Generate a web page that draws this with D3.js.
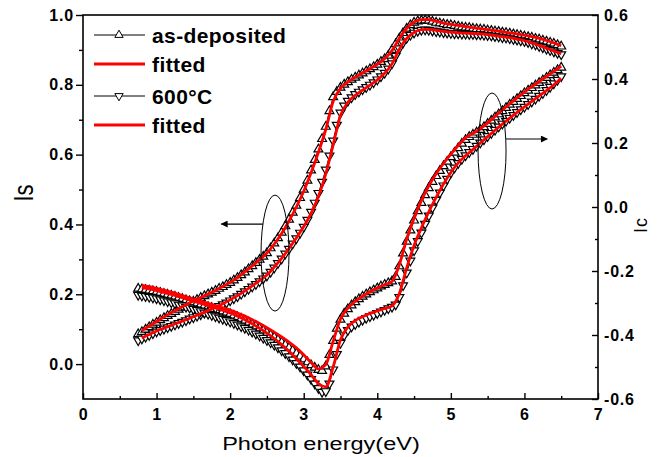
<!DOCTYPE html>
<html>
<head>
<meta charset="utf-8">
<script src="https://cdn.jsdelivr.net/npm/d3@7"></script>
<style>
body{margin:0;background:#fff;}
svg text{font-family:"Liberation Sans",Arial,sans-serif;fill:#000;}
</style>
</head>
<body>
<div id="board"></div>
<script>

// photon energy (eV) of the measured points
var energy = [0.75,0.8,0.85,0.9,0.95,
  1,1.05,1.1,1.15,1.2,1.25,1.3,1.35,1.4,1.45,1.5,1.55,1.6,1.65,1.7,1.75,1.8,1.85,1.9,1.95,
  2,2.05,2.1,2.15,2.2,2.25,2.3,2.35,2.4,2.45,2.5,2.55,2.6,2.65,2.7,2.75,2.8,2.85,2.9,2.95,
  3,3.05,3.1,3.15,3.2,3.25,3.3,3.35,3.4,3.45,3.5,3.55,3.6,3.65,3.7,3.75,3.8,3.85,3.9,3.95,
  4,4.05,4.1,4.15,4.2,4.25,4.3,4.35,4.4,4.45,4.5,4.55,4.6,4.65,4.7,4.75,4.8,4.85,4.9,4.95,
  5,5.05,5.1,5.15,5.2,5.25,5.3,5.35,5.4,5.45,5.5,5.55,5.6,5.65,5.7,5.75,5.8,5.85,5.9,5.95,
  6,6.05,6.1,6.15,6.2,6.25,6.3,6.35,6.4,6.45,6.5];

// Is, as-deposited (up triangles) and 600C (down triangles)
var isAsDep = [0.086,0.092,0.099,0.106,0.113,
  0.119,0.126,0.132,0.138,0.144,0.150,0.156,0.162,0.168,0.174,0.179,0.184,0.190,0.195,0.200,0.205,0.210,0.216,0.221,0.227,
  0.233,0.240,0.247,0.255,0.263,0.272,0.281,0.290,0.299,0.308,0.318,0.332,0.346,0.361,0.377,0.395,0.414,0.434,0.454,0.476,
  0.500,0.526,0.555,0.585,0.615,0.645,0.680,0.725,0.765,0.780,0.792,0.801,0.808,0.815,0.821,0.827,0.833,0.839,0.845,0.851,
  0.858,0.866,0.874,0.884,0.900,0.917,0.933,0.948,0.961,0.971,0.978,0.982,0.984,0.985,0.984,0.981,0.978,0.976,0.974,0.972,
  0.971,0.969,0.967,0.965,0.964,0.963,0.961,0.960,0.959,0.958,0.956,0.955,0.953,0.952,0.950,0.949,0.947,0.945,0.943,0.941,
  0.939,0.937,0.935,0.932,0.930,0.927,0.924,0.921,0.918,0.914,0.910];

var isAnnealed = [0.068,0.073,0.078,0.083,0.088,
  0.093,0.097,0.101,0.105,0.109,0.113,0.117,0.121,0.125,0.130,0.134,0.138,0.142,0.147,0.151,0.156,0.161,0.166,0.171,0.176,
  0.182,0.188,0.194,0.201,0.208,0.215,0.222,0.229,0.237,0.245,0.253,0.264,0.276,0.289,0.302,0.316,0.330,0.345,0.360,0.376,
  0.393,0.413,0.436,0.462,0.490,0.522,0.557,0.597,0.640,0.685,0.720,0.740,0.754,0.764,0.773,0.780,0.787,0.793,0.800,0.807,
  0.815,0.824,0.834,0.846,0.861,0.883,0.904,0.921,0.934,0.943,0.949,0.954,0.957,0.958,0.957,0.955,0.953,0.952,0.950,0.949,
  0.948,0.947,0.947,0.946,0.946,0.945,0.945,0.944,0.944,0.943,0.942,0.941,0.939,0.938,0.936,0.935,0.933,0.931,0.929,0.927,
  0.925,0.922,0.918,0.915,0.911,0.907,0.903,0.899,0.895,0.891,0.887];

// Ic (right axis)
var icAsDep = [-0.255,-0.257,-0.259,-0.261,-0.263,
  -0.265,-0.268,-0.271,-0.274,-0.277,-0.280,-0.284,-0.287,-0.291,-0.294,-0.298,-0.301,-0.305,-0.308,-0.312,-0.315,-0.319,-0.322,-0.326,-0.330,
  -0.334,-0.339,-0.344,-0.349,-0.355,-0.361,-0.367,-0.373,-0.379,-0.386,-0.393,-0.400,-0.407,-0.415,-0.423,-0.431,-0.440,-0.449,-0.458,-0.467,
  -0.476,-0.485,-0.494,-0.502,-0.509,-0.512,-0.498,-0.462,-0.418,-0.380,-0.352,-0.333,-0.319,-0.307,-0.297,-0.288,-0.280,-0.273,-0.266,-0.260,
  -0.254,-0.248,-0.243,-0.238,-0.232,-0.218,-0.185,-0.145,-0.108,-0.073,-0.042,-0.013,0.013,0.037,0.059,0.079,0.097,0.113,0.128,0.142,
  0.156,0.170,0.184,0.198,0.210,0.219,0.226,0.233,0.241,0.250,0.260,0.270,0.280,0.290,0.300,0.310,0.320,0.329,0.338,0.347,
  0.356,0.364,0.372,0.380,0.388,0.396,0.404,0.412,0.420,0.428,0.436];

var icAnnealed = [-0.275,-0.277,-0.279,-0.281,-0.283,
  -0.286,-0.289,-0.292,-0.295,-0.298,-0.301,-0.305,-0.308,-0.312,-0.315,-0.319,-0.322,-0.326,-0.330,-0.334,-0.338,-0.342,-0.346,-0.350,-0.354,
  -0.358,-0.363,-0.368,-0.373,-0.378,-0.384,-0.390,-0.396,-0.402,-0.409,-0.416,-0.423,-0.431,-0.439,-0.448,-0.457,-0.467,-0.477,-0.488,-0.499,
  -0.511,-0.524,-0.538,-0.552,-0.566,-0.578,-0.576,-0.552,-0.508,-0.460,-0.425,-0.401,-0.385,-0.374,-0.366,-0.359,-0.353,-0.347,-0.342,-0.337,
  -0.332,-0.327,-0.322,-0.317,-0.312,-0.305,-0.282,-0.245,-0.205,-0.168,-0.136,-0.107,-0.080,-0.053,-0.027,-0.002,0.022,0.045,0.067,0.088,
  0.107,0.123,0.137,0.150,0.161,0.171,0.181,0.191,0.201,0.211,0.221,0.231,0.241,0.251,0.260,0.269,0.278,0.287,0.296,0.305,
  0.313,0.321,0.329,0.338,0.347,0.356,0.365,0.375,0.386,0.397,0.408];

// fitted curves
var fitEnergy = [0.8,0.9,
  1,1.1,1.2,1.3,1.4,1.5,1.6,1.7,1.8,1.9,
  2,2.1,2.2,2.3,2.4,2.5,2.6,2.7,2.8,2.9,
  3,3.1,3.2,3.3,3.4,3.5,3.6,3.7,3.8,3.9,
  4,4.1,4.2,4.3,4.4,4.5,4.6,4.7,4.8,4.9,
  5,5.1,5.2,5.3,5.4,5.5,5.6,5.7,5.8,5.9,
  6,6.1,6.2,6.3,6.4,6.5];

var isAsDepFit = [0.096,0.109,
  0.122,0.135,0.147,0.159,0.170,0.181,0.191,0.201,0.211,0.222,
  0.234,0.248,0.264,0.281,0.299,0.318,0.344,0.374,0.410,0.450,
  0.495,0.548,0.607,0.672,0.752,0.790,0.808,0.822,0.834,0.846,
  0.859,0.875,0.898,0.933,0.962,0.980,0.987,0.987,0.982,0.977,
  0.973,0.970,0.967,0.964,0.961,0.958,0.955,0.952,0.949,0.946,
  0.942,0.938,0.933,0.927,0.920,0.912];

var isAnnealedFit = [0.075,0.085,
  0.095,0.103,0.111,0.119,0.127,0.136,0.144,0.153,0.163,0.173,
  0.184,0.196,0.210,0.224,0.239,0.255,0.278,0.303,0.331,0.361,
  0.394,0.432,0.480,0.545,0.628,0.712,0.750,0.770,0.785,0.799,
  0.814,0.833,0.860,0.902,0.933,0.950,0.958,0.959,0.956,0.953,
  0.951,0.949,0.948,0.947,0.946,0.944,0.941,0.938,0.935,0.931,
  0.927,0.920,0.913,0.905,0.897,0.889];

var icAsDepFit = [-0.245,-0.249,
  -0.254,-0.260,-0.266,-0.273,-0.280,-0.287,-0.294,-0.301,-0.308,-0.315,
  -0.322,-0.331,-0.341,-0.352,-0.364,-0.377,-0.391,-0.406,-0.422,-0.440,
  -0.462,-0.486,-0.506,-0.492,-0.420,-0.350,-0.316,-0.295,-0.279,-0.265,
  -0.253,-0.243,-0.233,-0.180,-0.100,-0.035,0.020,0.066,0.104,0.136,
  0.165,0.192,0.216,0.230,0.244,0.263,0.283,0.303,0.322,0.341,
  0.359,0.376,0.392,0.408,0.424,0.440];

var icAnnealedFit = [-0.252,-0.256,
  -0.261,-0.267,-0.273,-0.280,-0.287,-0.294,-0.301,-0.308,-0.315,-0.323,
  -0.331,-0.341,-0.352,-0.365,-0.379,-0.394,-0.411,-0.430,-0.451,-0.474,
  -0.498,-0.524,-0.552,-0.562,-0.500,-0.415,-0.375,-0.355,-0.343,-0.333,
  -0.325,-0.317,-0.309,-0.270,-0.190,-0.120,-0.065,-0.015,0.030,0.072,
  0.108,0.138,0.160,0.180,0.200,0.220,0.240,0.259,0.278,0.296,
  0.313,0.330,0.347,0.364,0.382,0.402];

// ticks
var xTicks = [0,1,2,3,4,5,6,7];
var xMinor = [0.5,1.5,2.5,3.5,4.5,5.5,6.5];
var isTicks = [0,0.2,0.4,0.6,0.8,1.0];
var isMinor = [0.1,0.3,0.5,0.7,0.9];
var icTicks = [-0.6,-0.4,-0.2,0,0.2,0.4,0.6];
var icMinor = [-0.5,-0.3,-0.1,0.1,0.3,0.5];

var legendLabels = ["as-deposited","fitted","600\u00B0C","fitted"];

// ellipse callouts: centre (eV, axis value), arrow tip energy, arrow level
var callouts = [
  {axis:"is", e:2.61, v:0.318, tipE:1.88, arrowV:0.401},
  {axis:"ic", e:5.56, v:0.175, tipE:6.31, arrowV:0.2125}
];

var svg = d3.select("#board").append("svg")
    .attr("width",658)
    .attr("height",457);

var x = d3.scaleLinear().domain([0,7]).range([83,598]);
var yIs = d3.scaleLinear().domain([-0.1,1.0]).range([399,15]);
var yIc = d3.scaleLinear().domain([-0.6,0.6]).range([399,15]);

function noLabel(){ return ""; }
var fmt = function(d){ return d3.format(".1f")(d).replace("\u2212","-"); };

function styleAxis(g){
    g.select(".domain").remove();
    g.selectAll("line").attr("stroke","#000").attr("stroke-width",1.4);
    g.selectAll("text")
        .attr("fill","#000")
        .style("font-family","'Liberation Sans',Arial,sans-serif")
        .style("font-size","16px")
        .style("font-weight","bold")
        .style("letter-spacing","0.8px");
}

// left axis, ticks outside
svg.append("g").attr("transform","translate(83,0)")
    .call(d3.axisLeft(yIs).tickValues(isTicks).tickSize(7).tickPadding(2).tickFormat(fmt))
    .call(styleAxis);
svg.append("g").attr("transform","translate(83,0)")
    .call(d3.axisLeft(yIs).tickValues(isMinor).tickSize(4).tickFormat(noLabel))
    .call(styleAxis);

// bottom axis, ticks inside
svg.append("g").attr("transform","translate(0,399)")
    .call(d3.axisBottom(x).tickValues(xTicks).tickSize(-6).tickPadding(10).tickFormat(d3.format("d")))
    .call(styleAxis);
svg.append("g").attr("transform","translate(0,399)")
    .call(d3.axisBottom(x).tickValues(xMinor).tickSize(-3).tickFormat(noLabel))
    .call(styleAxis);

// right axis, ticks inside
svg.append("g").attr("transform","translate(598,0)")
    .call(d3.axisRight(yIc).tickValues(icTicks).tickSize(-6).tickPadding(6).tickFormat(fmt))
    .call(styleAxis);
svg.append("g").attr("transform","translate(598,0)")
    .call(d3.axisRight(yIc).tickValues(icMinor).tickSize(-3).tickFormat(noLabel))
    .call(styleAxis);

svg.append("rect")
    .attr("x",x(0)).attr("y",yIs(1.0))
    .attr("width",x(7)-x(0)).attr("height",yIs(-0.1)-yIs(1.0))
    .attr("fill","none").attr("stroke","#000").attr("stroke-width",1.6);

var tri = d3.symbol().type(d3.symbolTriangle).size(34);

function drawData(xs, ys, yScale, down){
    var line = d3.line()
        .x(function(d,i){ return x(xs[i]); })
        .y(function(d){ return yScale(d); });
    svg.append("path").datum(ys)
        .attr("d",line)
        .attr("fill","none").attr("stroke","#000").attr("stroke-width",1);
    svg.append("g").selectAll("path").data(ys).join("path")
        .attr("transform",function(d,i){
            return "translate("+x(xs[i])+","+yScale(d)+")"+(down?" rotate(180)":"");
        })
        .attr("d",tri)
        .attr("fill","#fff").attr("stroke","#000").attr("stroke-width",1.2);
}

function drawFit(xs, ys, yScale){
    var line = d3.line()
        .x(function(d,i){ return x(xs[i]); })
        .y(function(d){ return yScale(d); })
        .curve(d3.curveMonotoneX);
    svg.append("path").datum(ys)
        .attr("d",line)
        .attr("fill","none").attr("stroke","#f00").attr("stroke-width",2.8)
        .attr("stroke-linejoin","round");
}

drawData(energy, isAsDep, yIs, false);
drawData(energy, icAsDep, yIc, false);
drawData(energy, isAnnealed, yIs, true);
drawData(energy, icAnnealed, yIc, true);

drawFit(fitEnergy, isAsDepFit, yIs);
drawFit(fitEnergy, icAsDepFit, yIc);
drawFit(fitEnergy, isAnnealedFit, yIs);
drawFit(fitEnergy, icAnnealedFit, yIc);

// callouts
svg.append("defs").append("marker")
    .attr("id","head")
    .attr("viewBox","0 0 10 10")
    .attr("refX",9).attr("refY",5)
    .attr("markerWidth",9).attr("markerHeight",7)
    .attr("markerUnits","userSpaceOnUse")
    .attr("orient","auto")
    .append("path").attr("d","M0,0 L10,5 L0,10 z").attr("fill","#000");

callouts.forEach(function(c){
    var ys = c.axis=="is" ? yIs : yIc;
    var cx = x(c.e), cy = ys(c.v), rx = 14, ry = 58;
    svg.append("ellipse")
        .attr("cx",cx).attr("cy",cy).attr("rx",rx).attr("ry",ry)
        .attr("fill","none").attr("stroke","#000").attr("stroke-width",1);
    var ay = ys(c.arrowV);
    var dy = (ay-cy)/ry;
    var side = c.tipE < c.e ? -1 : 1;
    var ax = cx + side*rx*Math.sqrt(1-dy*dy);
    svg.append("line")
        .attr("x1",ax).attr("y1",ay)
        .attr("x2",x(c.tipE)).attr("y2",ay)
        .attr("stroke","#000").attr("stroke-width",1.2)
        .attr("marker-end","url(#head)");
});

// legend
var legendRows = [35,64,96,125];
legendLabels.forEach(function(label,i){
    var y = legendRows[i];
    var g = svg.append("g");
    if(i%2===0){
        g.append("line").attr("x1",94).attr("x2",145).attr("y1",y).attr("y2",y)
            .attr("stroke","#000").attr("stroke-width",1);
        g.append("path")
            .attr("transform","translate(119,"+y+")"+(i==2?" rotate(180)":""))
            .attr("d",d3.symbol().type(d3.symbolTriangle).size(30))
            .attr("fill","#fff").attr("stroke","#000").attr("stroke-width",1);
    } else {
        g.append("line").attr("x1",94).attr("x2",145).attr("y1",y).attr("y2",y)
            .attr("stroke","#f00").attr("stroke-width",3);
    }
    g.append("text")
        .attr("x",152).attr("y",y)
        .attr("dy","0.36em")
        .style("font-size","21px")
        .style("font-weight","bold")
        .style("letter-spacing","0.4px")
        .text(label);
});

// axis titles
svg.append("text")
    .attr("transform","translate(321,450) scale(1.24,1)")
    .attr("text-anchor","middle")
    .style("font-size","19px")
    .text("Photon energy(eV)");

svg.append("text")
    .attr("transform","translate(33,193) rotate(-90) scale(1,1.25)")
    .attr("text-anchor","middle")
    .style("font-size","22px")
    .text("Is");

svg.append("text")
    .attr("transform","translate(647,225) rotate(-90)")
    .attr("text-anchor","middle")
    .style("font-size","18px")
    .style("letter-spacing","1px")
    .text("Ic");

</script>
</body>
</html>
